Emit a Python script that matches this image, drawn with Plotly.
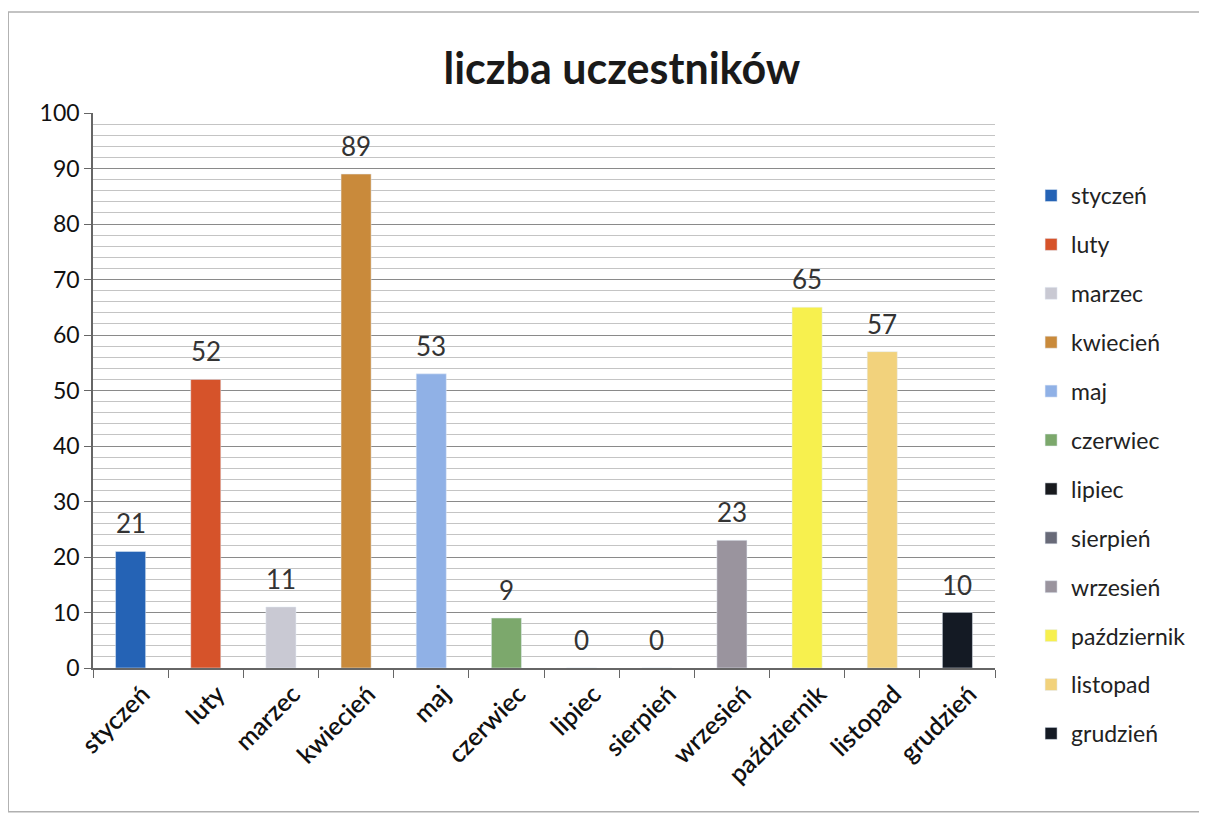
import plotly.graph_objects as go

months = ['styczeń', 'luty', 'marzec', 'kwiecień', 'maj', 'czerwiec', 'lipiec',
          'sierpień', 'wrzesień', 'październik', 'listopad', 'grudzień']
participants = [21, 52, 11, 89, 53, 9, 0, 0, 23, 65, 57, 10]
colors = ['#2563b5', '#d6532a', '#c9c9d3', '#c98a3b', '#90b1e6', '#7ca86c',
          '#181a1e', '#686a78', '#9a949e', '#f7f04e', '#f2d27c', '#141a24']

FONT = 'Lato'

fig = go.Figure()
for i, (m, v) in enumerate(zip(months, participants)):
    fig.add_trace(go.Bar(
        x=[m], y=[v], name=m, marker_color=colors[i], width=0.4,
        legendgroup=str(i),
    ))
    # value labels sit a little higher above the bars than plotly's default
    fig.add_annotation(x=m, y=v, text=str(v), showarrow=False,
                       yanchor='bottom', yshift=10,
                       font=dict(size=26, color='#333333', family=FONT))

# page has an 8px body margin, so the figure is sized to fit the window
fig.update_layout(
    barmode='overlay',
    width=1199, height=818,
    paper_bgcolor='white', plot_bgcolor='white',
    margin=dict(l=85, r=212, t=105, b=158),
    title=dict(text='<b>liczba uczestników</b>', x=0.512, xanchor='center',
               y=0.925, yanchor='middle',
               font=dict(size=43, family=FONT, color='#1a1a1a')),
    font=dict(family=FONT, color='#222222'),
    legend=dict(x=1.04, y=0.89, xanchor='left', yanchor='top',
                font=dict(size=23, family=FONT, color='#222222'),
                tracegroupgap=16, itemwidth=30, maxheight=700),
    showlegend=True,
    shapes=[dict(type='rect', xref='paper', yref='paper',
                 x0=-0.094, x1=1.2306, y0=-0.259, y1=1.182,
                 line=dict(color='#b0b0b0', width=1.5))],
)

fig.update_xaxes(
    categoryorder='array', categoryarray=months,
    tickangle=-45, tickfont=dict(size=25, family=FONT, color='#111111', weight=600),
    ticklabelshift=12,
    showline=True, linecolor='#666666', linewidth=1.5,
    ticks='outside', tickson='boundaries', ticklen=8, tickcolor='#666666',
    showgrid=False,
)
fig.update_yaxes(
    range=[0, 100], dtick=10,
    tickfont=dict(size=23, family=FONT, color='#111111'),
    showline=True, linecolor='#666666', linewidth=1.5,
    ticks='outside', ticklen=7, tickcolor='#666666',
    gridcolor='#8a8a8a', gridwidth=1.2,
    minor=dict(dtick=2, showgrid=True, gridcolor='#c4c4c4', gridwidth=1),
    zeroline=False,
)

fig.write_html('out.html')
